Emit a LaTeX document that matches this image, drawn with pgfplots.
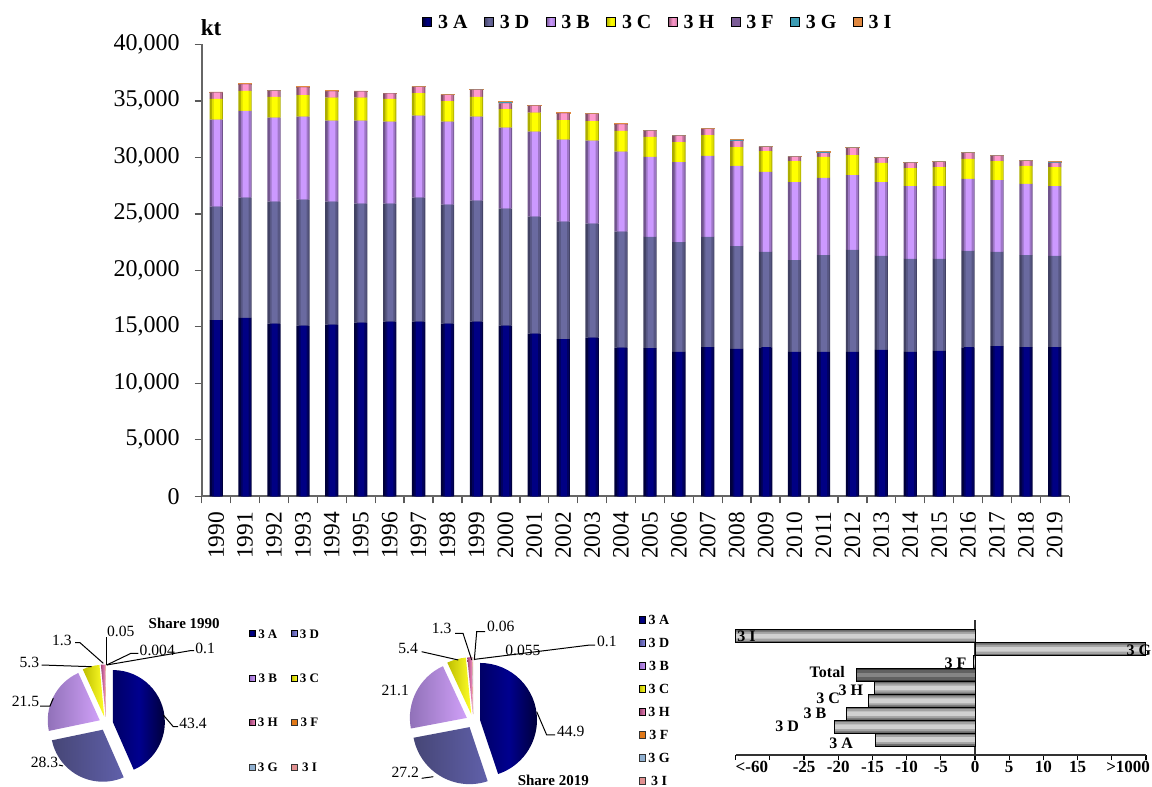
\documentclass[border=0pt]{standalone}
\usepackage{fontspec}
\setmainfont{Liberation Serif}
\usepackage{pgfplots}
\usepackage{pgfplotstable}
\pgfplotsset{compat=1.18}
\newcommand\fs[1]{\fontsize{#1}{#1}\selectfont}

\definecolor{cA}{HTML}{000084}
\definecolor{cD}{HTML}{6A6AA0}
\definecolor{cB}{HTML}{CC99FF}
\definecolor{cC}{HTML}{FFFF00}
\definecolor{cH}{HTML}{FF99CC}
\definecolor{cF}{HTML}{7B5C96}
\definecolor{cG}{HTML}{3C9CB4}
\definecolor{cI}{HTML}{E08840}
\definecolor{HTMLA}{HTML}{000066}
\definecolor{HTMLAm}{HTML}{00008E}
\definecolor{HTMLAr}{HTML}{00003A}

\tikzset{
 gA/.style={left color=cA!45!black, right color=cA!65!black, middle color=cA},
 gD/.style={left color=cD!65!black, right color=cD!80!black, middle color=cD},
 gB/.style={left color=cB!55!black, right color=cB!80!black, middle color=cB},
 gC/.style={left color=cC!70!black, right color=cC!90!black, middle color=cC},
 gH/.style={left color=cH!55!black, right color=cH!80!black, middle color=cH},
 gF/.style={fill=cF},
 gG/.style={fill=cG},
 gI/.style={fill=cI},
 pA/.style={left color=HTMLA, right color=HTMLAr, middle color=HTMLAm},
 pD/.style={left color={rgb,255:red,70;green,70;blue,118}, middle color={rgb,255:red,150;green,150;blue,236}, right color={rgb,255:red,96;green,96;blue,170}},
 pB/.style={left color={rgb,255:red,140;green,110;blue,180}, right color={rgb,255:red,208;green,160;blue,248}},
 pC/.style={left color={rgb,255:red,190;green,190;blue,0}, right color={rgb,255:red,255;green,255;blue,40}},
 pH/.style={left color={rgb,255:red,160;green,70;blue,120}, right color={rgb,255:red,255;green,150;blue,200}},
 pF/.style={fill={rgb,255:red,224;green,120;blue,24}},
 pG/.style={fill={rgb,255:red,144;green,176;blue,208}},
 pI/.style={fill={rgb,255:red,224;green,144;blue,144}},
 lA/.style={pA},
 lD/.style={left color={rgb,255:red,80;green,80;blue,150}, right color={rgb,255:red,140;green,140;blue,230}},
 lB/.style={left color={rgb,255:red,150;green,110;blue,200}, right color={rgb,255:red,200;green,150;blue,245}},
 lC/.style={left color={rgb,255:red,190;green,190;blue,0}, right color={rgb,255:red,255;green,255;blue,40}},
 lH/.style={left color={rgb,255:red,150;green,60;blue,110}, right color={rgb,255:red,240;green,140;blue,190}},
 lF/.style={pF, draw=black!80, line width=0.3pt},
 lG/.style={pG, draw=black!80, line width=0.3pt},
 lI/.style={pI, draw=black!80, line width=0.3pt},
}

\pgfplotstableread{
year A D B C H F G I
1990 15580 10050 7700 1830 560 18 2 40
1991 15780 10650 7670 1770 590 18 2 40
1992 15270 10800 7440 1830 530 18 2 40
1993 15100 11150 7350 1910 680 18 2 40
1994 15190 10880 7170 2040 560 18 2 40
1995 15360 10540 7340 2040 530 18 2 40
1996 15450 10450 7250 2010 470 18 2 40
1997 15450 10980 7250 2010 530 18 2 40
1998 15270 10540 7340 1830 530 18 2 40
1999 15450 10710 7440 1740 620 18 2 40
2000 15100 10350 7170 1650 510 18 80 40
2001 14390 10360 7520 1680 590 18 3 40
2002 13920 10380 7260 1740 590 18 3 40
2003 14040 10090 7340 1740 620 18 5 40
2004 13150 10270 7080 1830 590 18 5 40
2005 13120 9830 7080 1770 530 17 5 40
2006 12770 9730 7080 1770 540 17 5 40
2007 13210 9740 7170 1850 530 17 5 40
2008 13040 9110 7080 1680 530 17 80 40
2009 13190 8430 7080 1850 360 17 8 40
2010 12770 8140 6900 1860 360 17 8 35
2011 12770 8580 6820 1860 350 17 80 35
2012 12770 9030 6630 1770 620 17 10 35
2013 12950 8320 6540 1690 440 17 10 35
2014 12770 8230 6460 1590 450 17 12 35
2015 12860 8140 6460 1680 440 17 12 35
2016 13190 8520 6370 1770 530 16 14 35
2017 13300 8320 6370 1680 450 16 15 35
2018 13210 8140 6290 1590 440 16 16 30
2019 13210 8060 6190 1680 360 16 80 30
}\emis

\pgfplotsset{
  mainbox/.style={
    at={(100.85pt,145.35pt)}, anchor=south west,
    scale only axis, width=433.8pt, height=226pt,
    xmin=1989.5, xmax=2019.5, ymin=0, ymax=40000,
    enlargelimits=false, ybar stacked},
  chgbox/.style={
    at={(367.85pt,16pt)}, anchor=south west, scale only axis,
    width=205.15pt, height=67.5pt,
    xmin=-35, xmax=25, ymin=-1.19, ymax=9.26,
    enlargelimits=false, clip=false, xbar, bar shift=0pt},
}

\begin{document}
\begin{tikzpicture}
\path[use as bounding box] (0,0) rectangle (576pt,393.5pt);

% ---------------- main stacked bar chart: base layer (bar edges)
\begin{axis}[
  mainbox, bar width=6.65pt,
  axis x line*=bottom, axis y line*=left,
  axis line style={draw=black!60, line width=0.8pt},
  tick align=outside,
  major tick length=0pt, minor tick length=3.5pt,
  minor tick style={draw=black!65, line width=0.7pt},
  xtick={1990,...,2019},
  minor xtick={1989.5,1990.5,...,2019.5},
  ytick={0,5000,...,40000},
  minor ytick={0,5000,...,40000},
  scaled y ticks=false,
  /pgf/number format/assume math mode=true,
  yticklabel style={font=\fs{12}, inner xsep=10.85pt, inner ysep=0pt, anchor=east, /pgf/number format/1000 sep={,}},
  xticklabel style={font=\fs{11.7}, rotate=90, anchor=east, inner xsep=7.7pt, inner ysep=0pt, /pgf/number format/1000 sep={}},
  legend columns=8,
  legend image code/.code={\path[#1] (0pt,-2.25pt) rectangle (4.5pt,2.25pt);},
  legend style={draw=none, fill=none, inner sep=0pt, at={(0.2539,1.0493)}, anchor=west,
     font=\bfseries\fs{10}, nodes={inner sep=0pt, text height=6.8pt, text depth=0pt},
     /tikz/every odd column/.append style={column sep=3pt},
     /tikz/every even column/.append style={column sep=8.2pt}},
]
\addplot[forget plot, draw=none, fill=cA!45!black] table[x=year,y=A]{\emis};
\addplot[forget plot, draw=none, fill=cD!62!black] table[x=year,y=D]{\emis};
\addplot[forget plot, draw=none, fill=cB!55!black] table[x=year,y=B]{\emis};
\addplot[forget plot, draw=none, fill=cC!68!black] table[x=year,y=C]{\emis};
\addplot[forget plot, draw=none, fill=cH!52!black] table[x=year,y=H]{\emis};
\addplot[forget plot, draw=none, fill=cF] table[x=year,y=F]{\emis};
\addplot[forget plot, draw=none, fill=cG] table[x=year,y=G]{\emis};
\addplot[forget plot, draw=cI, line width=0.35pt, fill=cI] table[x=year,y=I]{\emis};
\addlegendimage{gA}\addlegendentry{3 A}
\addlegendimage{gD}\addlegendentry{3 D}
\addlegendimage{gB}\addlegendentry{3 B}
\addlegendimage{gC}\addlegendentry{3 C}
\addlegendimage{gH}\addlegendentry{3 H}
\addlegendimage{gF}\addlegendentry{3 F}
\addlegendimage{gG}\addlegendentry{3 G}
\addlegendimage{gI}\addlegendentry{3 I}
\end{axis}
% middle tone layer
\begin{axis}[mainbox, hide axis, bar width=5pt, bar shift=0.4pt]
\addplot[draw=none, fill=cA!72!black] table[x=year,y=A]{\emis};
\addplot[draw=none, fill=cD!82!black] table[x=year,y=D]{\emis};
\addplot[draw=none, fill=cB!78!black] table[x=year,y=B]{\emis};
\addplot[draw=none, fill=cC!88!black] table[x=year,y=C]{\emis};
\addplot[draw=none, fill=cH!76!black] table[x=year,y=H]{\emis};
\end{axis}
% highlight layer
\begin{axis}[mainbox, hide axis, bar width=3pt, bar shift=0.3pt]
\addplot[draw=none, fill=cA] table[x=year,y=A]{\emis};
\addplot[draw=none, fill=cD] table[x=year,y=D]{\emis};
\addplot[draw=none, fill=cB] table[x=year,y=B]{\emis};
\addplot[draw=none, fill=cC] table[x=year,y=C]{\emis};
\addplot[draw=none, fill=cH] table[x=year,y=H]{\emis};
\end{axis}
\node[font=\bfseries\fs{11.5}] at (105.5pt,379.5pt) {kt};

% ---------------- pie 1990
\begin{axis}[
  at={(0pt,0pt)}, anchor=south west, scale only axis,
  width=180pt, height=103.5pt,
  xmin=0, xmax=360, ymin=580, ymax=787, y dir=reverse,
  hide axis, clip=false,
  legend columns=2,
  legend image code/.code={\path[#1] (0pt,-1.5pt) rectangle (3pt,1.5pt);},
  legend style={draw=none, fill=none, inner sep=0pt, at={(0.6897,0.7638)}, anchor=north west,
     font=\bfseries\fs{6.5}, nodes={inner sep=0pt, text height=4.4pt, text depth=0pt},
     row sep=17.8pt,
     /tikz/every odd column/.append style={column sep=1.2pt},
     /tikz/every even column/.append style={column sep=6.5pt}},
]
\pgfplotsextra{%
  \gdef\pieang{90}%
  \foreach \v/\s in {43.4/pA,28.3/pD,21.5/pB,5.3/pC,1.3/pH,0.05/pF,0.004/pG,0.1/pI}{%
    \pgfmathsetmacro{\pisw}{\v*360/99.954}%
    \pgfmathsetmacro{\piend}{\pieang-\pisw}%
    \pgfmathsetmacro{\pimid}{\pieang-\pisw/2}%
    \path[\s, shift={(\pimid:3.5pt)}] (axis cs:106,723.5) -- ++(\pieang:26pt) arc[start angle=\pieang, end angle=\piend, radius=26pt] -- cycle;%
    \xdef\pieang{\piend}%
  }%
}
\draw[line width=0.5pt] (axis cs:163.3,715) -- (axis cs:173.3,726.7) -- (axis cs:178,726.7);
\draw[line width=0.5pt] (axis cs:59,765) -- (axis cs:63,766);
\draw[line width=0.5pt] (axis cs:40,706) -- (axis cs:50,706) -- (axis cs:53.3,698.3);
\draw[line width=0.5pt] (axis cs:41.7,665) -- (axis cs:91.7,666.7);
\draw[line width=0.5pt] (axis cs:75,642.7) -- (axis cs:80,642.7) -- (axis cs:103.3,663.3);
\draw[line width=0.5pt] (axis cs:106,637) -- (axis cs:106,665);
\draw[line width=0.5pt] (axis cs:106.7,665) -- (axis cs:131,653.3) -- (axis cs:138.3,653.3);
\draw[line width=0.5pt] (axis cs:106.7,665) -- (axis cs:190,650.7) -- (axis cs:194,650.7);
\begin{scope}[every node/.style={inner sep=0pt, font=\fs{7.8}}]
\node[anchor=west] at (axis cs:179,723.3) {43.4};
\node[anchor=east] at (axis cs:58.5,762.3) {28.3};
\node[anchor=east] at (axis cs:39.5,701.7) {21.5};
\node[anchor=east] at (axis cs:39.5,662.7) {5.3};
\node[anchor=east] at (axis cs:72,640) {1.3};
\node[anchor=west] at (axis cs:106.7,631.7) {0.05};
\node[anchor=west] at (axis cs:139.3,650) {0.004};
\node[anchor=west] at (axis cs:195,648.3) {0.1};
\node[font=\bfseries\fs{7.5}] at (axis cs:184.2,623.3) {Share 1990};
\end{scope}
\addlegendimage{lA}\addlegendentry{3 A}
\addlegendimage{lD}\addlegendentry{3 D}
\addlegendimage{lB}\addlegendentry{3 B}
\addlegendimage{lC}\addlegendentry{3 C}
\addlegendimage{lH}\addlegendentry{3 H}
\addlegendimage{lF}\addlegendentry{3 F}
\addlegendimage{lG}\addlegendentry{3 G}
\addlegendimage{lI}\addlegendentry{3 I}
\end{axis}

% ---------------- pie 2019
\begin{axis}[
  at={(180pt,0pt)}, anchor=south west, scale only axis,
  width=180pt, height=103.5pt,
  xmin=360, xmax=720, ymin=580, ymax=787, y dir=reverse,
  hide axis, clip=false,
  legend columns=1,
  legend image code/.code={\path[#1] (0pt,-1.6pt) rectangle (3.2pt,1.6pt);},
  legend style={draw=none, fill=none, inner sep=0pt, at={(0.7731,0.8333)}, anchor=north west,
     font=\bfseries\fs{7}, nodes={inner sep=0pt, text height=4.8pt, text depth=0pt},
     row sep=6.7pt,
     /tikz/every odd column/.append style={column sep=1.2pt}},
]
\pgfplotsextra{%
  \gdef\pieang{90}%
  \foreach \v/\s in {44.9/pA,27.2/pD,21.1/pB,5.4/pC,1.3/pH,0.055/pF,0.06/pG,0.1/pI}{%
    \pgfmathsetmacro{\pisw}{\v*360/100.115}%
    \pgfmathsetmacro{\piend}{\pieang-\pisw}%
    \pgfmathsetmacro{\pimid}{\pieang-\pisw/2}%
    \path[\s, shift={(\pimid:3.5pt)}] (axis cs:473.1,721.1) -- ++(\pieang:28.5pt) arc[start angle=\pieang, end angle=\piend, radius=28.5pt] -- cycle;%
    \xdef\pieang{\piend}%
  }%
}
\draw[line width=0.5pt] (axis cs:536.7,711.7) -- (axis cs:546.7,735) -- (axis cs:555,735);
\draw[line width=0.5pt] (axis cs:421.7,778.3) -- (axis cs:433.3,776.7);
\draw[line width=0.5pt] (axis cs:421.7,651.7) -- (axis cs:458.3,660);
\draw[line width=0.5pt] (axis cs:455,633.3) -- (axis cs:463,633.3) -- (axis cs:471.7,660);
\draw[line width=0.5pt] (axis cs:485,631.7) -- (axis cs:476.7,631.7) -- (axis cs:474.3,660);
\draw[line width=0.5pt] (axis cs:475,659.3) -- (axis cs:590,645) -- (axis cs:595,645);
\begin{scope}[every node/.style={inner sep=0pt, font=\fs{7.8}}]
\node[anchor=west] at (axis cs:556.7,731.7) {44.9};
\node[anchor=east] at (axis cs:419.3,772.7) {27.2};
\node[anchor=east] at (axis cs:409.3,690) {21.1};
\node[anchor=east] at (axis cs:418.3,648.3) {5.4};
\node[anchor=east] at (axis cs:451.7,628.3) {1.3};
\node[anchor=west] at (axis cs:486.7,626.7) {0.06};
\node[anchor=west] at (axis cs:505,650) {0.055};
\node[anchor=west] at (axis cs:596.7,641.7) {0.1};
\node[font=\bfseries\fs{7.5}] at (axis cs:553.3,780) {Share 2019};
\end{scope}
\addlegendimage{lA}\addlegendentry{3 A}
\addlegendimage{lD}\addlegendentry{3 D}
\addlegendimage{lB}\addlegendentry{3 B}
\addlegendimage{lC}\addlegendentry{3 C}
\addlegendimage{lH}\addlegendentry{3 H}
\addlegendimage{lF}\addlegendentry{3 F}
\addlegendimage{lG}\addlegendentry{3 G}
\addlegendimage{lI}\addlegendentry{3 I}
\end{axis}

% ---------------- change 1990-2019 (%)
\begin{axis}[
  chgbox,
  axis x line*=bottom, axis y line*=center,
  axis line style={draw=black!80, line width=0.6pt},
  ytick=\empty,
  tick align=outside,
  major tick length=0pt, minor tick length=2.5pt,
  minor tick style={draw=black, line width=0.6pt},
  xtick={-35,-30,...,25},
  minor xtick={-35,-30,...,25},
  xticklabels={{\makebox[0pt][l]{<-60}},{},{-25},{-20},{-15},{-10},{-5},{0},{5},{10},{15},{},{\makebox[0pt][r]{>1000\hspace*{-2pt}}}},
  xticklabel style={font=\bfseries\fs{8.5}, anchor=north, inner ysep=2.9pt, inner xsep=0pt},
]
% light bars (categories 3 A ... 3 I, at 0..8; Total at 5)
\addplot[draw=none, fill=black!58, bar width=6.45pt]
  coordinates {(-14.6,0) (-20.6,1) (-18.8,2) (-15.6,3) (-14.7,4) (-0.25,6) (25,7) (-35,8)};
\addplot[draw=none, fill=black!36, bar width=4.6pt]
  coordinates {(-14.6,0) (-20.6,1) (-18.8,2) (-15.6,3) (-14.7,4) (-0.25,6) (25,7) (-35,8)};
\addplot[draw=none, fill=black!18, bar width=2.4pt]
  coordinates {(-14.6,0) (-20.6,1) (-18.8,2) (-15.6,3) (-14.7,4) (-0.25,6) (25,7) (-35,8)};
\addplot[draw=black, line width=0.5pt, fill=none, bar width=6.45pt]
  coordinates {(-14.6,0) (-20.6,1) (-18.8,2) (-15.6,3) (-14.7,4) (-0.25,6) (25,7) (-35,8)};
% total
\addplot[draw=none, fill=black!78, bar width=6.45pt] coordinates {(-17.3,5)};
\addplot[draw=none, fill=black!62, bar width=4.6pt] coordinates {(-17.3,5)};
\addplot[draw=none, fill=black!48, bar width=2.4pt] coordinates {(-17.3,5)};
\addplot[draw=black, line width=0.5pt, fill=none, bar width=6.45pt] coordinates {(-17.3,5)};
\begin{scope}[every node/.style={inner sep=0pt, font=\bfseries\fs{8}}]
\node[anchor=west] at (axis cs:-34.8,8) {3 I};
\node[anchor=east] at (axis cs:25.8,6.95) {3 G};
\node[anchor=east] at (axis cs:-1.2,5.9) {3 F};
\node[anchor=east] at (axis cs:-19.0,5.26) {Total};
\node[anchor=east] at (axis cs:-16.3,3.84) {3 H};
\node[anchor=east] at (axis cs:-19.7,3.2) {3 C};
\node[anchor=east] at (axis cs:-21.7,2.04) {3 B};
\node[anchor=east] at (axis cs:-25.7,1.0) {3 D};
\node[anchor=east] at (axis cs:-17.8,-0.29) {3 A};
\end{scope}
\end{axis}
\end{tikzpicture}
\end{document}
